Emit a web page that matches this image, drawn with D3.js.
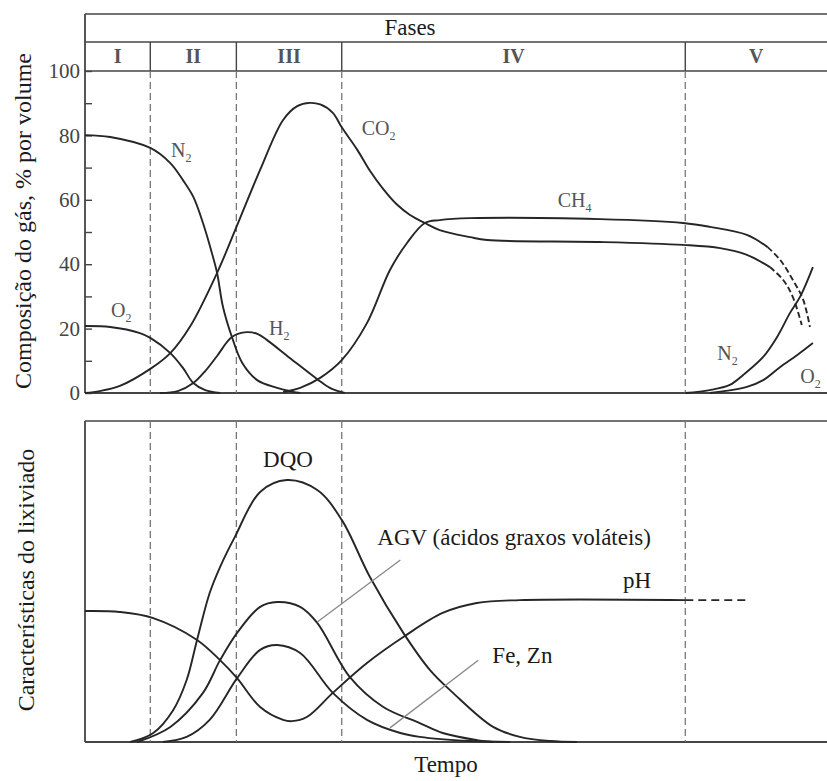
<!DOCTYPE html>
<html>
<head>
<meta charset="utf-8">
<script src="https://cdn.jsdelivr.net/npm/d3@7"></script>
<style>
  body { margin: 0; background: #fff; }
</style>
</head>
<body>
<script>
// fases do aterro (limites em unidades de tempo, 0-100)
var phaseNames = ["I", "II", "III", "IV", "V"];
var phaseBounds = [0, 8.8, 20.4, 34.6, 80.9, 100];

// composicao do gas, % por volume : [tempo, valor]
var n2Gas = [[0, 80.1], [3.4, 79.5], [8.8, 76.1], [11.5, 71.4], [13.2, 66.1], [14.6, 60.9], [15.9, 52.8],
    [17.1, 43.5], [17.8, 37.3], [18.6, 26.7], [19.8, 17.4], [21.2, 9.3], [23.2, 4.0], [25.9, 1.6],
    [27.6, 0.6], [29.0, 0]];
var co2Gas = [[0, 0], [2.0, 0.6], [4.7, 2.2], [8.8, 7.5], [11.5, 12.4], [14.2, 20.8], [17.8, 37.3],
    [20.4, 51.5], [23.6, 69.3], [26.7, 84.8], [28.6, 89.1], [30.3, 90.1], [31.7, 89.6], [33.4, 87.0],
    [34.6, 82.5], [36.7, 75.5], [38.4, 69.0], [40.2, 63.3], [42.0, 58.6], [43.8, 55.3], [45.8, 52.8],
    [47.8, 50.6], [51.9, 48.4], [54.2, 47.5], [69.4, 46.9], [80.6, 46.0], [85.6, 45.0], [89.2, 42.9],
    [92.3, 39.1], [94.1, 35.1], [95.4, 29.8], [96.6, 21.1]];
var ch4Gas = [[26.7, 0.3], [29.0, 1.6], [31.7, 4.7], [34.6, 10.2], [38.0, 21.7], [41.1, 38.2],
    [43.4, 46.6], [45.8, 52.8], [47.8, 53.7], [51.9, 54.3], [69.4, 54.0], [80.6, 52.8], [84.2, 51.6],
    [89.2, 49.1], [92.0, 45.3], [93.7, 41.3], [95.4, 35.1], [96.8, 28.9], [97.7, 20.5]];
var o2Gas = [[0, 20.8], [3.4, 20.5], [7.4, 18.6], [8.8, 17.1], [11.5, 12.4], [13.2, 7.8], [14.6, 3.1],
    [16.2, 0.9], [18.2, 0]];
var h2Gas = [[10.1, 0], [12.5, 0.6], [14.6, 3.1], [16.2, 6.8], [17.8, 11.5], [19.8, 17.4], [21.8, 18.9],
    [23.3, 18.3], [24.5, 16.5], [27.6, 10.9], [31.3, 4.3], [33.0, 1.6], [35.0, 0]];
var n2Late = [[80.9, 0], [84.2, 0.9], [86.9, 2.5], [88.7, 5.6], [91.4, 11.2], [93.3, 17.5], [95.0, 24.8],
    [96.4, 30.0], [98.1, 39.1]];
var o2Late = [[84.2, 0], [89.2, 1.9], [91.4, 4.0], [93.7, 8.1], [96.0, 11.8], [98.1, 15.5]];
var ch4DashFrom = 92.0, co2DashFrom = 92.3;

// caracteristicas do lixiviado (escala relativa 0-100)
var phLeach = [[0, 40.8], [4.7, 40.5], [9.2, 38.6], [15.1, 31.8], [18.2, 25.5], [20.5, 19.9], [23.6, 10.9],
    [26.7, 6.9], [27.9, 6.5], [29.9, 7.8], [33.4, 15.3], [38.0, 24.6], [42.9, 32.7], [48.2, 40.2],
    [52.8, 43.3], [58.6, 44.2], [80.9, 44.2], [89.6, 44.2]];
var dqoLeach = [[6.1, 0], [9.2, 2.8], [11.9, 10.0], [13.7, 19.3], [15.1, 31.8], [16.8, 46.4], [18.2, 54.5],
    [20.2, 63.9], [23.6, 77.9], [27.2, 81.6], [31.3, 78.5], [34.6, 69.2], [38.4, 51.4], [42.9, 34.0],
    [46.5, 22.4], [49.6, 15.3], [55.0, 4.7], [58.6, 1.6], [62.7, 0.3], [66.3, 0]];
var agvLeach = [[7.0, 0], [11.5, 4.7], [15.9, 15.3], [18.2, 25.5], [20.5, 34.0], [23.6, 42.1], [25.9, 43.6],
    [29.0, 42.1], [31.3, 37.1], [35.7, 20.2], [40.2, 10.9], [45.1, 5.9], [48.2, 2.8], [52.8, 0.6], [55.0, 0]];
var feznLeach = [[10.5, 0], [13.7, 1.6], [16.8, 6.9], [20.5, 19.9], [23.6, 28.7], [25.9, 30.2], [29.0, 27.7],
    [33.4, 15.3], [38.0, 6.9], [42.5, 2.8], [45.1, 1.6], [51.9, 0.3], [57.3, 0]];
var phDashFrom = 80.9;

// rotulos : [tempo, valor, texto, indice]
var gasLabels = [[11.6, 73.3, "N", "2"], [37.3, 80.1, "CO", "2"], [63.7, 57.8, "CH", "4"],
    [3.5, 23.6, "O", "2"], [24.8, 18.0, "H", "2"], [85.2, 10.2, "N", "2"], [96.4, 3.1, "O", "2"]];
var leachLabels = [[24.0, 85.7, "DQO"], [39.4, 61.4, "AGV (ácidos graxos voláteis)"],
    [72.5, 48.0, "pH"], [54.9, 24.6, "Fe, Zn"]];
var leaders = [[[31.3, 37.4], [42.5, 56.7]], [[41.1, 4.4], [53.0, 25.5]]];

var width = 827, height = 781;
var left = 85, right = 827;
var gasTop = 14, fasesLine = 42, gasBottom = 393;
var leachTop = 421, leachBottom = 742;
var serif = "'Liberation Serif', 'Times New Roman', Times, 'DejaVu Serif', serif";

var svg = d3.select("body").append("svg")
    .attr("width", width)
    .attr("height", height)
    .style("background", "#fff")
    .style("font-family", serif);

var x = d3.scaleLinear().domain([0, 100]).range([left, right]);
var yGas = d3.scaleLinear().domain([0, 100]).range([gasBottom, 71]);
var yLeach = d3.scaleLinear().domain([0, 100]).range([leachBottom, leachTop]);

var frameColor = "#444", curveColor = "#262626";

function hline(y, x1, x2, w) {
    svg.append("line").attr("x1", x1).attr("x2", x2).attr("y1", y).attr("y2", y)
        .attr("stroke", frameColor).attr("stroke-width", w || 1.6);
}

// molduras
hline(gasTop, left, right);
hline(fasesLine, left, right);
hline(yGas(100), left, right);
hline(gasBottom, left, right, 2);
hline(leachTop, left, right);
hline(leachBottom, left, right, 2);
svg.append("line").attr("x1", left).attr("x2", left).attr("y1", gasTop).attr("y2", gasBottom)
    .attr("stroke", frameColor).attr("stroke-width", 1.8);
svg.append("line").attr("x1", left).attr("x2", left).attr("y1", leachTop).attr("y2", leachBottom)
    .attr("stroke", frameColor).attr("stroke-width", 1.8);

// divisoes das fases
var inner = phaseBounds.slice(1, -1);
svg.append("g").selectAll("line")
    .data(inner).enter().append("line")
    .attr("x1", function (d) { return x(d); }).attr("x2", function (d) { return x(d); })
    .attr("y1", fasesLine).attr("y2", yGas(100))
    .attr("stroke", frameColor).attr("stroke-width", 1.4);

[[yGas(100), gasBottom], [leachTop, leachBottom]].forEach(function (r) {
    svg.append("g").selectAll("line")
        .data(inner).enter().append("line")
        .attr("x1", function (d) { return x(d); }).attr("x2", function (d) { return x(d); })
        .attr("y1", r[0]).attr("y2", r[1])
        .attr("stroke", "#777").attr("stroke-width", 1.3)
        .attr("stroke-dasharray", "7,4");
});

svg.append("text").attr("x", 410).attr("y", 35)
    .attr("text-anchor", "middle").attr("font-size", 23).attr("fill", "#1a1a1a")
    .style("font-family", serif)
    .text("Fases");

svg.append("g").selectAll("text")
    .data(phaseNames).enter().append("text")
    .attr("x", function (d, i) { return (x(phaseBounds[i]) + x(phaseBounds[i + 1])) / 2; })
    .attr("y", 63)
    .attr("text-anchor", "middle").attr("font-size", 20).attr("font-weight", "bold")
    .attr("fill", "#555")
    .style("font-family", serif)
    .text(function (d) { return d; });

// eixo y do gas
var yAxis = d3.axisLeft(yGas)
    .tickValues(d3.range(0, 101, 10))
    .tickSizeInner(-7).tickSizeOuter(0).tickPadding(5)
    .tickFormat(function (d) { return d % 20 === 0 ? d : ""; });

var ga = svg.append("g").attr("transform", "translate(" + left + ",0)").call(yAxis);
ga.select(".domain").remove();
ga.selectAll("line").attr("stroke", frameColor).attr("stroke-width", 1.4);
ga.selectAll("text").attr("font-size", 21).attr("fill", "#444")
    .style("font-family", serif);

// titulos
svg.append("text")
    .attr("transform", "translate(31,221) rotate(-90)")
    .attr("text-anchor", "middle").attr("font-size", 24).attr("fill", "#1a1a1a")
    .style("font-family", serif)
    .text("Composição do gás, % por volume");
svg.append("text")
    .attr("transform", "translate(34,580) rotate(-90)")
    .attr("text-anchor", "middle").attr("font-size", 24).attr("fill", "#1a1a1a")
    .style("font-family", serif)
    .text("Características do lixiviado");
svg.append("text").attr("x", 446).attr("y", 772)
    .attr("text-anchor", "middle").attr("font-size", 23).attr("fill", "#1a1a1a")
    .style("font-family", serif)
    .text("Tempo");

// curvas
var gasLine = d3.line()
    .x(function (d) { return x(d[0]); })
    .y(function (d) { return yGas(d[1]); })
    .curve(d3.curveCatmullRom.alpha(0.5));
var leachLine = d3.line()
    .x(function (d) { return x(d[0]); })
    .y(function (d) { return yLeach(d[1]); })
    .curve(d3.curveCatmullRom.alpha(0.5));

function drawCurve(line, data, dashFrom, dash) {
    var solid = dashFrom == null ? data : data.filter(function (d) { return d[0] <= dashFrom; });
    svg.append("path").datum(solid)
        .attr("d", line).attr("fill", "none")
        .attr("stroke", curveColor).attr("stroke-width", 1.9);
    if (dashFrom != null) {
        svg.append("path").datum(data.filter(function (d) { return d[0] >= dashFrom; }))
            .attr("d", line).attr("fill", "none")
            .attr("stroke", curveColor).attr("stroke-width", 1.9)
            .attr("stroke-dasharray", dash);
    }
}

drawCurve(gasLine, n2Gas);
drawCurve(gasLine, co2Gas, co2DashFrom, "6,3");
drawCurve(gasLine, ch4Gas, ch4DashFrom, "6,3");
drawCurve(gasLine, o2Gas);
drawCurve(gasLine, h2Gas);
drawCurve(gasLine, n2Late);
drawCurve(gasLine, o2Late);

drawCurve(leachLine, phLeach, phDashFrom, "8,5");
drawCurve(leachLine, dqoLeach);
drawCurve(leachLine, agvLeach);
drawCurve(leachLine, feznLeach);

// linhas de chamada
svg.append("g").selectAll("line")
    .data(leaders).enter().append("line")
    .attr("x1", function (d) { return x(d[0][0]); }).attr("y1", function (d) { return yLeach(d[0][1]); })
    .attr("x2", function (d) { return x(d[1][0]); }).attr("y2", function (d) { return yLeach(d[1][1]); })
    .attr("stroke", "#888").attr("stroke-width", 1.3);

// rotulos do gas
var gl = svg.append("g").selectAll("text")
    .data(gasLabels).enter().append("text")
    .attr("x", function (d) { return x(d[0]); })
    .attr("y", function (d) { return yGas(d[1]); })
    .attr("font-size", 20).attr("fill", "#555")
    .style("font-family", serif);
gl.append("tspan").text(function (d) { return d[2]; });
gl.append("tspan").attr("dy", 5).attr("font-size", 12).text(function (d) { return d[3]; });

// rotulos do lixiviado
svg.append("g").selectAll("text")
    .data(leachLabels).enter().append("text")
    .attr("x", function (d) { return x(d[0]); })
    .attr("y", function (d) { return yLeach(d[1]); })
    .attr("font-size", 23).attr("fill", "#1a1a1a")
    .style("font-family", serif)
    .text(function (d) { return d[2]; });
</script>
</body>
</html>
